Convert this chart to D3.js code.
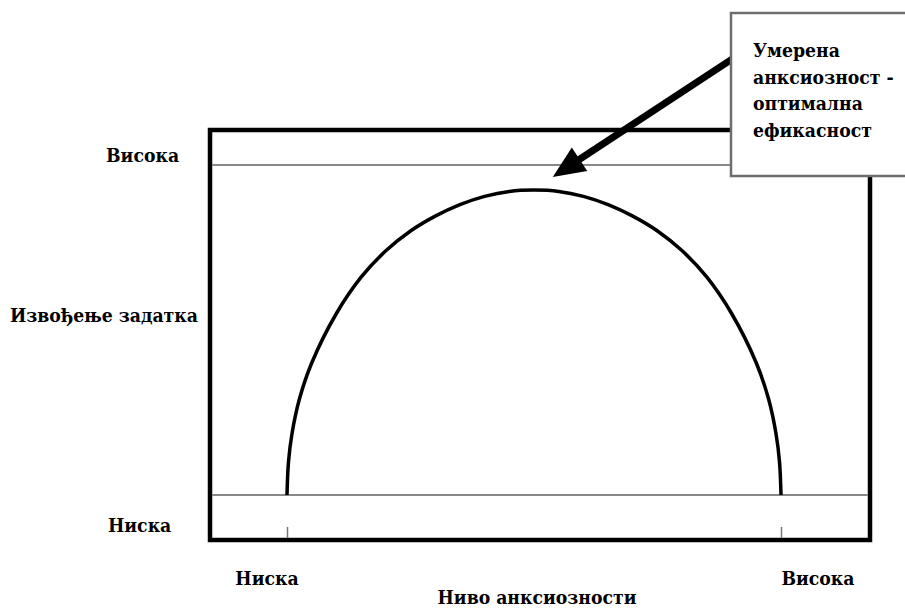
<!DOCTYPE html>
<html>
<head>
<meta charset="utf-8">
<script src="https://cdn.jsdelivr.net/npm/d3@7"></script>
<style>
  body { margin: 0; background: #fff; }
</style>
</head>
<body>
<div id="chart"></div>
<script>
// anxiety level (0 = low tick, 10 = high tick) and task performance (0 = low line, 10 = high line)
const anxiety =     [0, 0.03, 0.1, 0.25, 0.5, 1, 1.5, 2, 2.5, 3, 3.5, 4, 4.5, 5, 5.5, 6, 6.5, 7, 7.5, 8, 8.5, 9, 9.5, 9.75, 9.9, 9.97, 10];
const performance = [0, 1.0, 1.85, 2.9, 4.0, 5.5, 6.6, 7.4, 8.0, 8.45, 8.8, 9.05, 9.2, 9.24, 9.2, 9.05, 8.8, 8.45, 8.0, 7.4, 6.6, 5.5, 4.0, 2.9, 1.85, 1.0, 0];

const xTicks = [0, 10];
const xTickLabels = ["Ниска", "Висока"];
const yLevels = [10, 0];
const yLevelLabels = ["Висока", "Ниска"];
const xTitle = "Ниво анксиозности";
const yTitle = "Извођење задатка";

// arrow from the callout to the top of the curve, in data units
const arrowFrom = [9.07, 13.27];
const arrowTo = [5.38, 9.64];
const calloutLines = ["Умерена", "анксиозност -", "оптимална", "ефикасност"];

const totalWidth = 905, totalHeight = 609;
const frame = { left: 210, right: 870, top: 130, bottom: 540 };

const svg = d3.select("#chart").append("svg")
    .attr("width", totalWidth)
    .attr("height", totalHeight)
    .attr("font-family", "'DejaVu Serif Condensed', 'DejaVu Serif', serif")
    .style("font-stretch", "condensed")
    .attr("font-weight", "bold")
    .attr("font-size", "19.2px");

const x = d3.scaleLinear().domain([0, 10]).range([287, 781]);
const y = d3.scaleLinear().domain([0, 10]).range([495, 165]);

// outer frame
svg.append("rect")
    .attr("x", frame.left).attr("y", frame.top)
    .attr("width", frame.right - frame.left)
    .attr("height", frame.bottom - frame.top)
    .attr("fill", "none")
    .attr("stroke", "#000")
    .attr("stroke-width", 4.5);

// high / low performance reference lines
svg.selectAll(".level").data(yLevels).enter().append("line")
    .attr("class", "level")
    .attr("x1", frame.left + 2).attr("x2", frame.right - 2)
    .attr("y1", d => y(d)).attr("y2", d => y(d))
    .attr("stroke", "#888")
    .attr("stroke-width", 2);

// x ticks pointing up from the frame bottom
const xAxis = d3.axisBottom(x).tickValues(xTicks).tickSize(-11).tickFormat("");
const xAxisG = svg.append("g")
    .attr("transform", `translate(0,${frame.bottom - 2})`)
    .call(xAxis);
xAxisG.select(".domain").remove();
xAxisG.selectAll(".tick line").attr("stroke", "#777").attr("stroke-width", 1.5);

// the curve
const points = anxiety.map((a, i) => [a, performance[i]]);
svg.append("path")
    .datum(points)
    .attr("d", d3.line().x(d => x(d[0])).y(d => y(d[1])).curve(d3.curveCatmullRom.alpha(0.5)))
    .attr("fill", "none")
    .attr("stroke", "#000")
    .attr("stroke-width", 3.5);

// tick labels
const labelOffsets = [-20, 37];
svg.selectAll(".xlabel").data(xTickLabels).enter().append("text")
    .attr("class", "xlabel")
    .attr("x", (d, i) => x(xTicks[i]) + labelOffsets[i])
    .attr("y", 585)
    .attr("text-anchor", "middle")
    .text(d => d);

svg.append("text")
    .attr("x", 537).attr("y", 604)
    .attr("text-anchor", "middle")
    .text(xTitle);

const yLabelX = [106, 108];
const yLabelOffsets = [-3, 37];
svg.selectAll(".ylabel").data(yLevelLabels).enter().append("text")
    .attr("class", "ylabel")
    .attr("x", (d, i) => yLabelX[i])
    .attr("y", (d, i) => y(yLevels[i]) + yLabelOffsets[i])
    .text(d => d);

svg.append("text")
    .attr("x", 10).attr("y", 322)
    .text(yTitle);

// arrow
const ax0 = x(arrowFrom[0]), ay0 = y(arrowFrom[1]);
const ax1 = x(arrowTo[0]), ay1 = y(arrowTo[1]);
const ang = Math.atan2(ay1 - ay0, ax1 - ax0);
const headLen = 32, headHalf = 14;
const bx = ax1 - headLen * Math.cos(ang), by = ay1 - headLen * Math.sin(ang);
svg.append("line")
    .attr("x1", ax0).attr("y1", ay0)
    .attr("x2", bx + 4 * Math.cos(ang)).attr("y2", by + 4 * Math.sin(ang))
    .attr("stroke", "#000")
    .attr("stroke-width", 7);
svg.append("path")
    .attr("d", d3.line()([
        [ax1, ay1],
        [bx - headHalf * Math.sin(ang), by + headHalf * Math.cos(ang)],
        [bx + headHalf * Math.sin(ang), by - headHalf * Math.cos(ang)]
    ]) + "Z")
    .attr("fill", "#000");

// callout box
svg.append("rect")
    .attr("x", 731).attr("y", 13)
    .attr("width", 190).attr("height", 163)
    .attr("fill", "#fff")
    .attr("stroke", "#6e6e6e")
    .attr("stroke-width", 2.5);

svg.selectAll(".callout").data(calloutLines).enter().append("text")
    .attr("class", "callout")
    .attr("x", 753)
    .attr("y", (d, i) => 57 + i * 26.7)
    .text(d => d);
</script>
</body>
</html>
